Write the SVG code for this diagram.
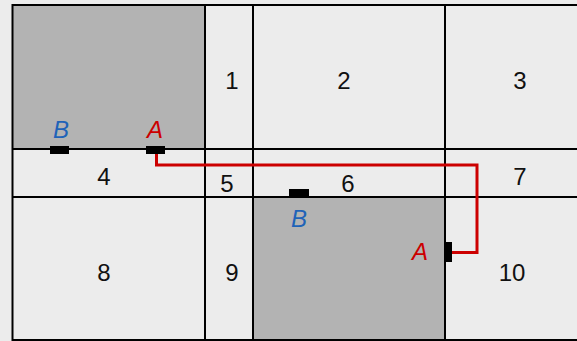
<svg xmlns="http://www.w3.org/2000/svg" width="577" height="341" viewBox="0 0 577 341">
<style>
.grid{stroke:#000;stroke-width:2;fill:none}
.num{font-family:"Liberation Sans",Arial,sans-serif;font-size:24px;fill:#111;text-anchor:middle}
.lbl{font-family:"Liberation Sans",Arial,sans-serif;font-size:24px;font-style:italic;text-anchor:middle}
.pa{fill:#cc0000}
.pb{fill:#1f63b8}
.port{fill:#000}
</style>
<rect x="0" y="0" width="577" height="341" fill="#ececec"/>
<g id="shaded">
<rect x="12" y="5" width="193" height="144" fill="#b3b3b3"/>
<rect x="253" y="197" width="192" height="144" fill="#b3b3b3"/>
</g>
<g id="grid" class="grid">
<line x1="12" y1="5" x2="577" y2="5"/>
<line x1="12" y1="149" x2="577" y2="149"/>
<line x1="12" y1="197" x2="577" y2="197"/>
<line x1="12" y1="340" x2="577" y2="340"/>
<line x1="12.5" y1="4" x2="12.5" y2="341"/>
<line x1="205" y1="5" x2="205" y2="341"/>
<line x1="253" y1="5" x2="253" y2="341"/>
<line x1="445" y1="5" x2="445" y2="341"/>
</g>
<g id="cells">
<g id="c1"><text class="num" x="232" y="89">1</text></g>
<g id="c2"><text class="num" x="344" y="89">2</text></g>
<g id="c3"><text class="num" x="520" y="89">3</text></g>
<g id="c4"><text class="num" x="104" y="185">4</text></g>
<g id="c5"><text class="num" x="227" y="192">5</text></g>
<g id="c6"><text class="num" x="348" y="192">6</text></g>
<g id="c7"><text class="num" x="520" y="185">7</text></g>
<g id="c8"><text class="num" x="104" y="281">8</text></g>
<g id="c9"><text class="num" x="232" y="281">9</text></g>
<g id="c10"><text class="num" x="512" y="281">10</text></g>
</g>
<g id="connectors">
<polyline points="156.5,150 156.5,165 477,165 477,252.5 446,252.5" fill="none" stroke="#cc0000" stroke-width="3"/>
</g>
<g id="ports">
<rect class="port" x="50" y="146" width="19" height="8"/>
<rect class="port" x="146" y="146" width="19" height="8"/>
<rect class="port" x="289" y="189" width="20" height="8"/>
<rect class="port" x="445" y="242" width="7" height="20"/>
</g>
<g id="labels">
<text class="lbl pb" x="61" y="138">B</text>
<text class="lbl pa" x="155" y="138">A</text>
<text class="lbl pb" x="299" y="227">B</text>
<text class="lbl pa" x="420" y="260">A</text>
</g>
</svg>
